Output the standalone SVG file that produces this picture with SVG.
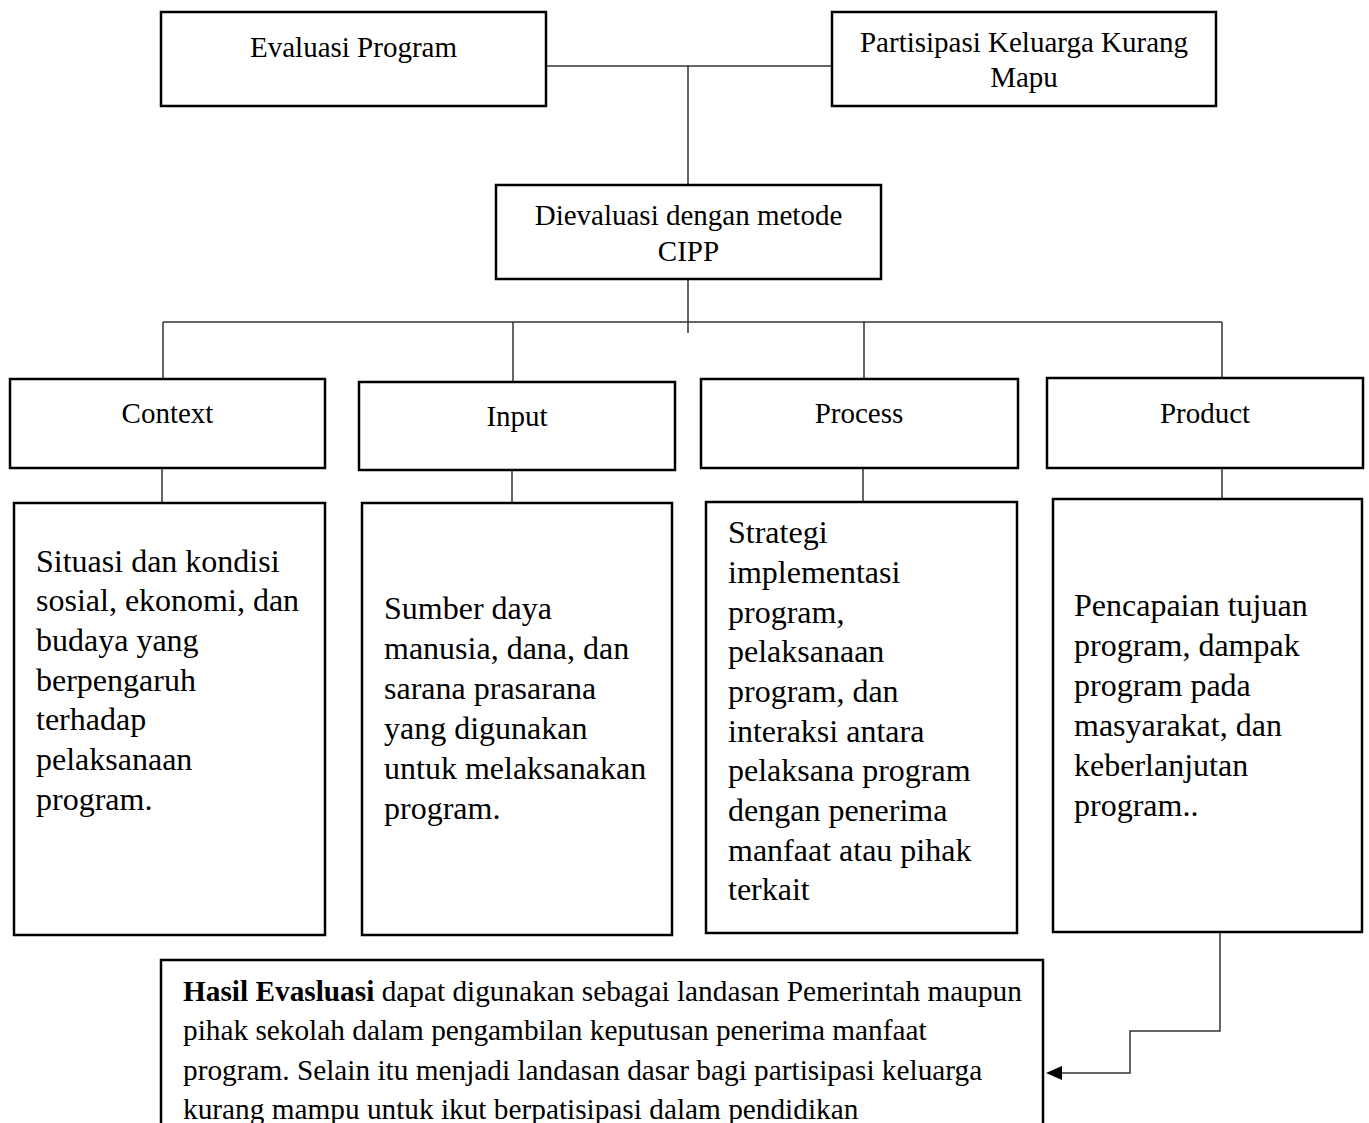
<svg xmlns="http://www.w3.org/2000/svg" width="1369" height="1123" viewBox="0 0 1369 1123">
<defs>
<style>
.box{fill:#fff;stroke:#000;stroke-width:2.5}
.ln{fill:none;stroke:#333;stroke-width:1.5}
text{font-family:"Liberation Serif","Times New Roman",serif;fill:#000}
.lbl{font-size:29px;text-anchor:middle}
.desc{font-size:32px}
.bot{font-size:29.3px}
</style>
</defs>
<rect width="1369" height="1123" fill="#fff"/>
<g id="connectors">
<path class="ln" d="M546,66 H832"/>
<path class="ln" d="M688,66 V185"/>
<path class="ln" d="M688,279 V333"/>
<path class="ln" d="M163,322 H1222"/>
<path class="ln" d="M163,322 V379"/>
<path class="ln" d="M513,322 V382"/>
<path class="ln" d="M864,322 V379"/>
<path class="ln" d="M1222,322 V378"/>
<path class="ln" d="M162,467 V503"/>
<path class="ln" d="M512,469 V503"/>
<path class="ln" d="M863,467 V502"/>
<path class="ln" d="M1222,467 V499"/>
<path class="ln" d="M1220,932 V1031 H1130 V1073 H1060"/>
<path d="M1046,1073 L1062,1066 L1062,1080 Z" fill="#000"/>
</g>
<g id="evaluasi-program">
<rect class="box" x="161" y="12" width="385" height="94"/>
<text class="lbl" x="353.5" y="57">Evaluasi Program</text>
</g>
<g id="partisipasi">
<rect class="box" x="832" y="12" width="384" height="94"/>
<text class="lbl" x="1024" y="52">Partisipasi Keluarga Kurang</text>
<text class="lbl" x="1024" y="87">Mapu</text>
</g>
<g id="cipp">
<rect class="box" x="496" y="185" width="385" height="94"/>
<text class="lbl" x="688.5" y="225">Dievaluasi dengan metode</text>
<text class="lbl" x="688.5" y="261">CIPP</text>
</g>
<g id="context">
<rect class="box" x="10" y="379" width="315" height="89"/>
<text class="lbl" x="167.5" y="423">Context</text>
</g>
<g id="input">
<rect class="box" x="359" y="382" width="316" height="88"/>
<text class="lbl" x="517" y="426">Input</text>
</g>
<g id="process">
<rect class="box" x="701" y="379" width="317" height="89"/>
<text class="lbl" x="859" y="423">Process</text>
</g>
<g id="product">
<rect class="box" x="1047" y="378" width="316" height="90"/>
<text class="lbl" x="1205" y="423">Product</text>
</g>
<g id="context-desc">
<rect class="box" x="14" y="503" width="311" height="432"/>
<text class="desc" x="36" y="572">Situasi dan kondisi</text>
<text class="desc" x="36" y="611">sosial, ekonomi, dan</text>
<text class="desc" x="36" y="651">budaya yang</text>
<text class="desc" x="36" y="691">berpengaruh</text>
<text class="desc" x="36" y="730">terhadap</text>
<text class="desc" x="36" y="770">pelaksanaan</text>
<text class="desc" x="36" y="810">program.</text>
</g>
<g id="input-desc">
<rect class="box" x="362" y="503" width="310" height="432"/>
<text class="desc" x="384" y="619">Sumber daya</text>
<text class="desc" x="384" y="659">manusia, dana, dan</text>
<text class="desc" x="384" y="699">sarana prasarana</text>
<text class="desc" x="384" y="739">yang digunakan</text>
<text class="desc" x="384" y="779">untuk melaksanakan</text>
<text class="desc" x="384" y="819">program.</text>
</g>
<g id="process-desc">
<rect class="box" x="706" y="502" width="311" height="431"/>
<text class="desc" x="728" y="543">Strategi</text>
<text class="desc" x="728" y="583">implementasi</text>
<text class="desc" x="728" y="623">program,</text>
<text class="desc" x="728" y="662">pelaksanaan</text>
<text class="desc" x="728" y="702">program, dan</text>
<text class="desc" x="728" y="742">interaksi antara</text>
<text class="desc" x="728" y="781">pelaksana program</text>
<text class="desc" x="728" y="821">dengan penerima</text>
<text class="desc" x="728" y="861">manfaat atau pihak</text>
<text class="desc" x="728" y="900">terkait</text>
</g>
<g id="product-desc">
<rect class="box" x="1053" y="499" width="309" height="433"/>
<text class="desc" x="1074" y="616">Pencapaian tujuan</text>
<text class="desc" x="1074" y="656">program, dampak</text>
<text class="desc" x="1074" y="696">program pada</text>
<text class="desc" x="1074" y="736">masyarakat, dan</text>
<text class="desc" x="1074" y="776">keberlanjutan</text>
<text class="desc" x="1074" y="816">program..</text>
</g>
<g id="hasil">
<rect class="box" x="161" y="960" width="882" height="180"/>
<text class="bot" x="183" y="1001"><tspan font-weight="bold">Hasil Evasluasi</tspan> dapat digunakan sebagai landasan Pemerintah maupun</text>
<text class="bot" x="183" y="1040">pihak sekolah dalam pengambilan keputusan penerima manfaat</text>
<text class="bot" x="183" y="1080">program. Selain itu menjadi landasan dasar bagi partisipasi keluarga</text>
<text class="bot" x="183" y="1119">kurang mampu untuk ikut berpatisipasi dalam pendidikan</text>
</g>
</svg>
